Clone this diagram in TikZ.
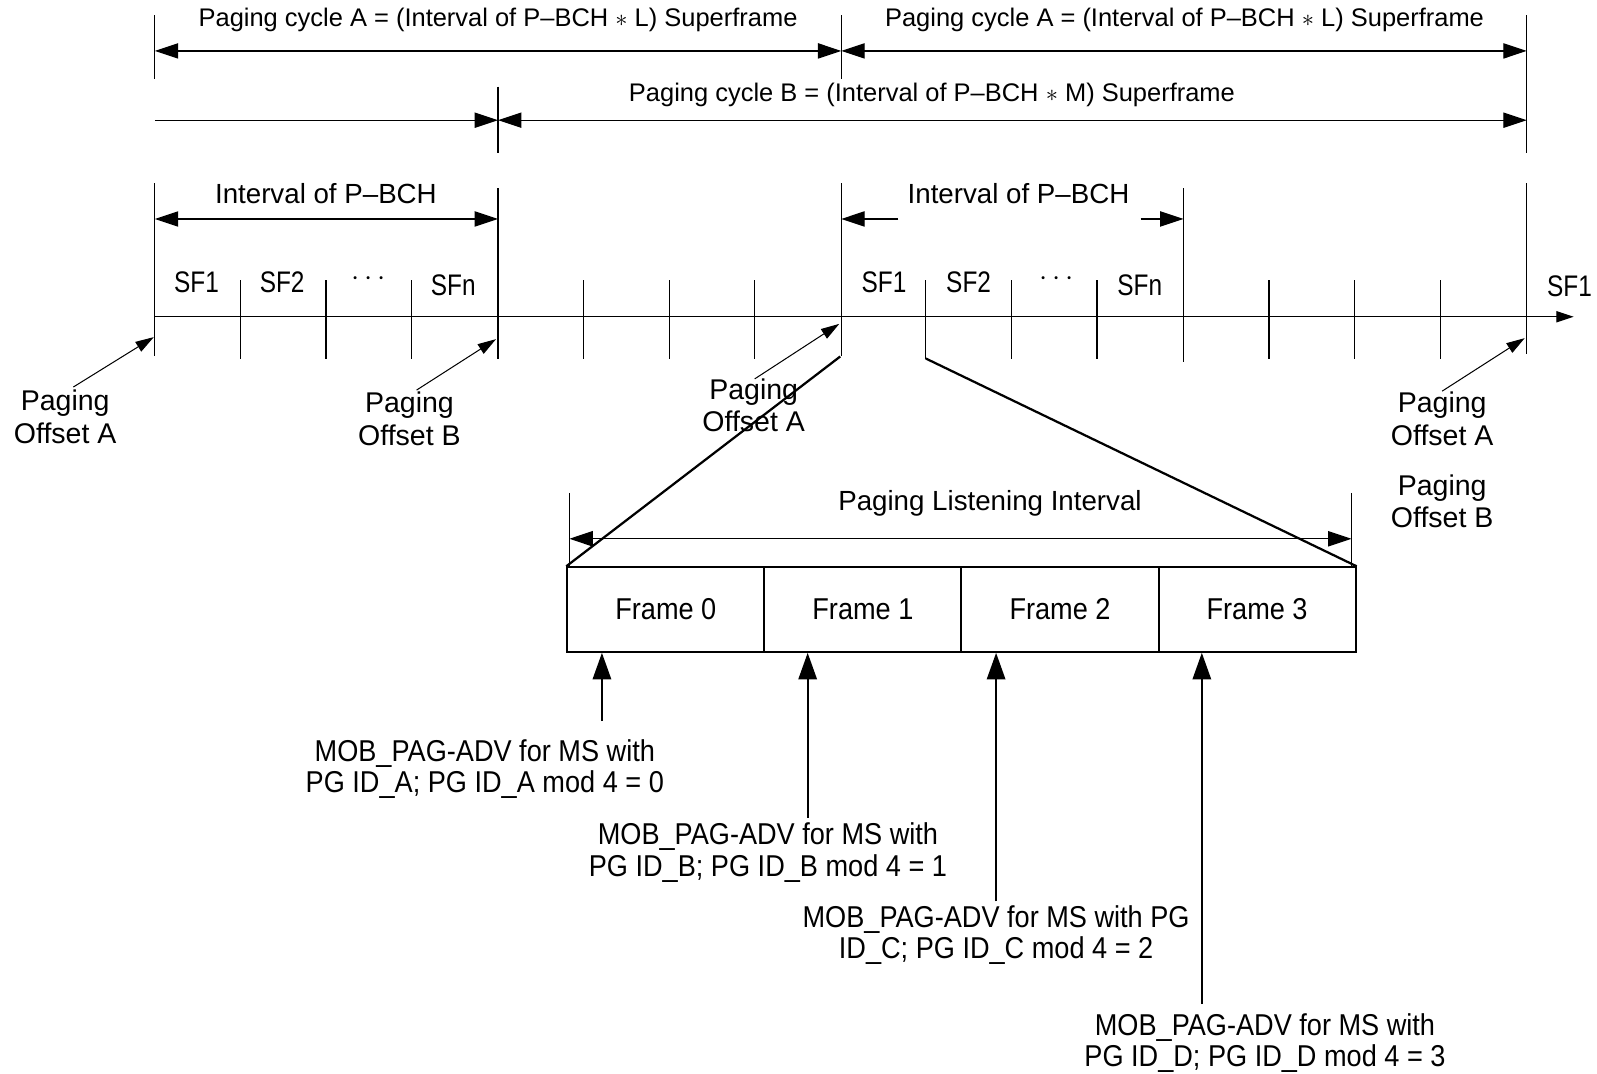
\documentclass[tikz,border=0pt]{standalone}
\usepackage{fontspec}
\setmainfont{Liberation Sans}
\newfontfamily\narrowfont[FakeStretch=0.9]{Liberation Sans}
\newfontfamily\sffont[FakeStretch=0.82]{Liberation Sans}
\usetikzlibrary{arrows.meta}
\tikzset{
  ln/.style={line width=0.6pt},
  thk/.style={line width=1.1pt},
  dimarrow/.style={ln, {Triangle[length=11.5pt,width=7.5pt]}-{Triangle[length=11.5pt,width=7.5pt]}},
  dimright/.style={ln, -{Triangle[length=11.5pt,width=7.5pt]}},
  axisarrow/.style={ln, -{Triangle[length=8.5pt,width=5.5pt]}},
  offarrow/.style={line width=0.5pt, -{Triangle[length=9pt,width=5.5pt]}},
  uparrow/.style={line width=1pt, -{Triangle[length=13pt,width=9pt]}},
  cyclabel/.style={font=\fontsize{12.5}{15}\selectfont, inner sep=0pt},
  intlabel/.style={font=\fontsize{13.6}{16}\selectfont, inner sep=0pt},
  sflabel/.style={font=\sffont\fontsize{14.6}{16}\selectfont, inner sep=0pt},
  offlabel/.style={font=\fontsize{14}{16}\selectfont, align=center, inner sep=0pt},
  framebox/.style={draw, line width=1pt, minimum width=96.75pt, minimum height=41.5pt, inner sep=0pt, font=\narrowfont\fontsize{14.8}{16}\selectfont},
  msglabel/.style={font=\narrowfont\fontsize{14.8}{15.5}\selectfont, align=center, inner sep=0pt},
}
\begin{document}
\begin{tikzpicture}[x=0.5pt,y=-0.5pt]
\fill[white] (0,0) rectangle (1568,1054);
\useasboundingbox (0,0) rectangle (1568,1054);

% ---------- top verticals ----------
\draw[ln] (152,15) -- (152,78);
\draw[ln] (826,15) -- (826,78);
\draw[ln] (1499,15) -- (1499,150);
\draw[ln] (489,85) -- (489,150);

% ---------- paging cycle A ----------
\coordinate (a0) at (152,50);
\coordinate (a1) at (826,50);
\coordinate (a2) at (1499,50);
\draw[dimarrow] (a0) -- (a1);
\draw[dimarrow] (a1) -- (a2);
\node[cyclabel] (la1) at (489,20) {Paging cycle A = (Interval of P–BCH $\ast$ L) Superframe};
\node[cyclabel] (la2) at (1163,20) {Paging cycle A = (Interval of P–BCH $\ast$ L) Superframe};

% ---------- paging cycle B ----------
\coordinate (b0) at (152,118);
\coordinate (b1) at (489,118);
\coordinate (b2) at (1499,118);
\draw[dimright] (b0) -- (b1);
\draw[dimarrow] (b1) -- (b2);
\node[cyclabel] (lb) at (915,93) {Paging cycle B = (Interval of P–BCH $\ast$ M) Superframe};

% ---------- long verticals ----------
\draw[ln] (152,180) -- (152,350);
\draw[ln] (489,185) -- (489,352);
\draw[ln] (826,180) -- (826,350);
\draw[ln] (1162,185) -- (1162,355);
\draw[ln] (1499,180) -- (1499,348);

% ---------- interval of P-BCH ----------
\coordinate (i0) at (152,215);
\coordinate (i1) at (489,215);
\draw[dimarrow] (i0) -- (i1);
\node[intlabel] (li1) at (320,190) {Interval of P–BCH};
\coordinate (j0) at (826,215);
\coordinate (j0s) at (882,215);
\coordinate (j1s) at (1120,215);
\coordinate (j1) at (1162,215);
\draw[dimright] (j0s) -- (j0);
\draw[dimright] (j1s) -- (j1);
\node[intlabel] (li2) at (1000,190) {Interval of P–BCH};

% ---------- short ticks ----------
\foreach \x in {236,320,404,573,657,741,909,993,1077,1246,1330,1414}
  \draw[ln] (\x,275) -- (\x,352);

% ---------- time axis ----------
\coordinate (t0) at (152,311);
\coordinate (t1) at (1545,311);
\draw[axisarrow] (t0) -- (t1);

% ---------- SF labels ----------
\node[sflabel] (s1) at (193,277) {SF1};
\node[sflabel] (s2) at (277,277) {SF2};
\node[sflabel] (s3) at (362,274) {$\cdots$};
\node[sflabel] (s4) at (445,280) {SFn};
\node[sflabel] (s5) at (868,277) {SF1};
\node[sflabel] (s6) at (951,277) {SF2};
\node[sflabel] (s7) at (1037,274) {$\cdots$};
\node[sflabel] (s8) at (1119,280) {SFn};
\node[sflabel] (s9) at (1541,281) {SF1};

% ---------- paging offsets ----------
\node[offlabel] (po1) at (64,409) {Paging\\Offset A};
\node[offlabel] (po2) at (402,411) {Paging\\Offset B};
\node[offlabel] (po3) at (740,398) {Paging\\Offset A};
\node[offlabel] (po4) at (1416,411) {Paging\\Offset A};
\node[offlabel] (po5) at (1416,492) {Paging\\Offset B};
\coordinate (q1) at (72,380);   \coordinate (p1) at (151,331);
\coordinate (q2) at (409,383);  \coordinate (p2) at (487,333);
\coordinate (q3) at (741,372);  \coordinate (p3) at (824,318);
\coordinate (q4) at (1416,384); \coordinate (p4) at (1497,332);
\draw[offarrow] (q1) -- (p1);
\draw[offarrow] (q2) -- (p2);
\draw[offarrow] (q3) -- (p3);
\draw[offarrow] (q4) -- (p4);

% ---------- frames ----------
\node[framebox] (f0) at (653.75,598.5) {Frame 0};
\node[framebox] (f1) at (847.25,598.5) {Frame 1};
\node[framebox] (f2) at (1040.75,598.5) {Frame 2};
\node[framebox] (f3) at (1234.25,598.5) {Frame 3};

% ---------- zoom lines ----------
\coordinate (z0) at (825,350);
\coordinate (z1) at (909,352);
\draw[thk] (z0) -- (f0.north west);
\draw[thk] (z1) -- (f3.north east);

% ---------- paging listening interval ----------
\draw[ln] (559,484) -- (559,556);
\draw[ln] (1327,484) -- (1327,556);
\coordinate (l0) at (559,529);
\coordinate (l1) at (1327,529);
\draw[dimarrow] (l0) -- (l1);
\node[intlabel] (lpl) at (972,494) {Paging Listening Interval};

% ---------- message arrows ----------
\coordinate (m0t) at (591,708);
\coordinate (m1t) at (793,803);
\coordinate (m2t) at (978,885);
\coordinate (m3t) at (1180,986);
\draw[uparrow] (m0t) -- (m0t |- f0.south);
\draw[uparrow] (m1t) -- (m1t |- f1.south);
\draw[uparrow] (m2t) -- (m2t |- f2.south);
\draw[uparrow] (m3t) -- (m3t |- f3.south);

\node[msglabel] (m0) at (476,755) {MOB\_PAG-ADV for MS with\\PG ID\_A; PG ID\_A mod 4 = 0};
\node[msglabel] (m1) at (754,837) {MOB\_PAG-ADV for MS with\\PG ID\_B; PG ID\_B mod 4 = 1};
\node[msglabel] (m2) at (978,918) {MOB\_PAG-ADV for MS with PG\\ID\_C; PG ID\_C mod 4 = 2};
\node[msglabel] (m3) at (1242,1024) {MOB\_PAG-ADV for MS with\\PG ID\_D; PG ID\_D mod 4 = 3};
\end{tikzpicture}
\end{document}
